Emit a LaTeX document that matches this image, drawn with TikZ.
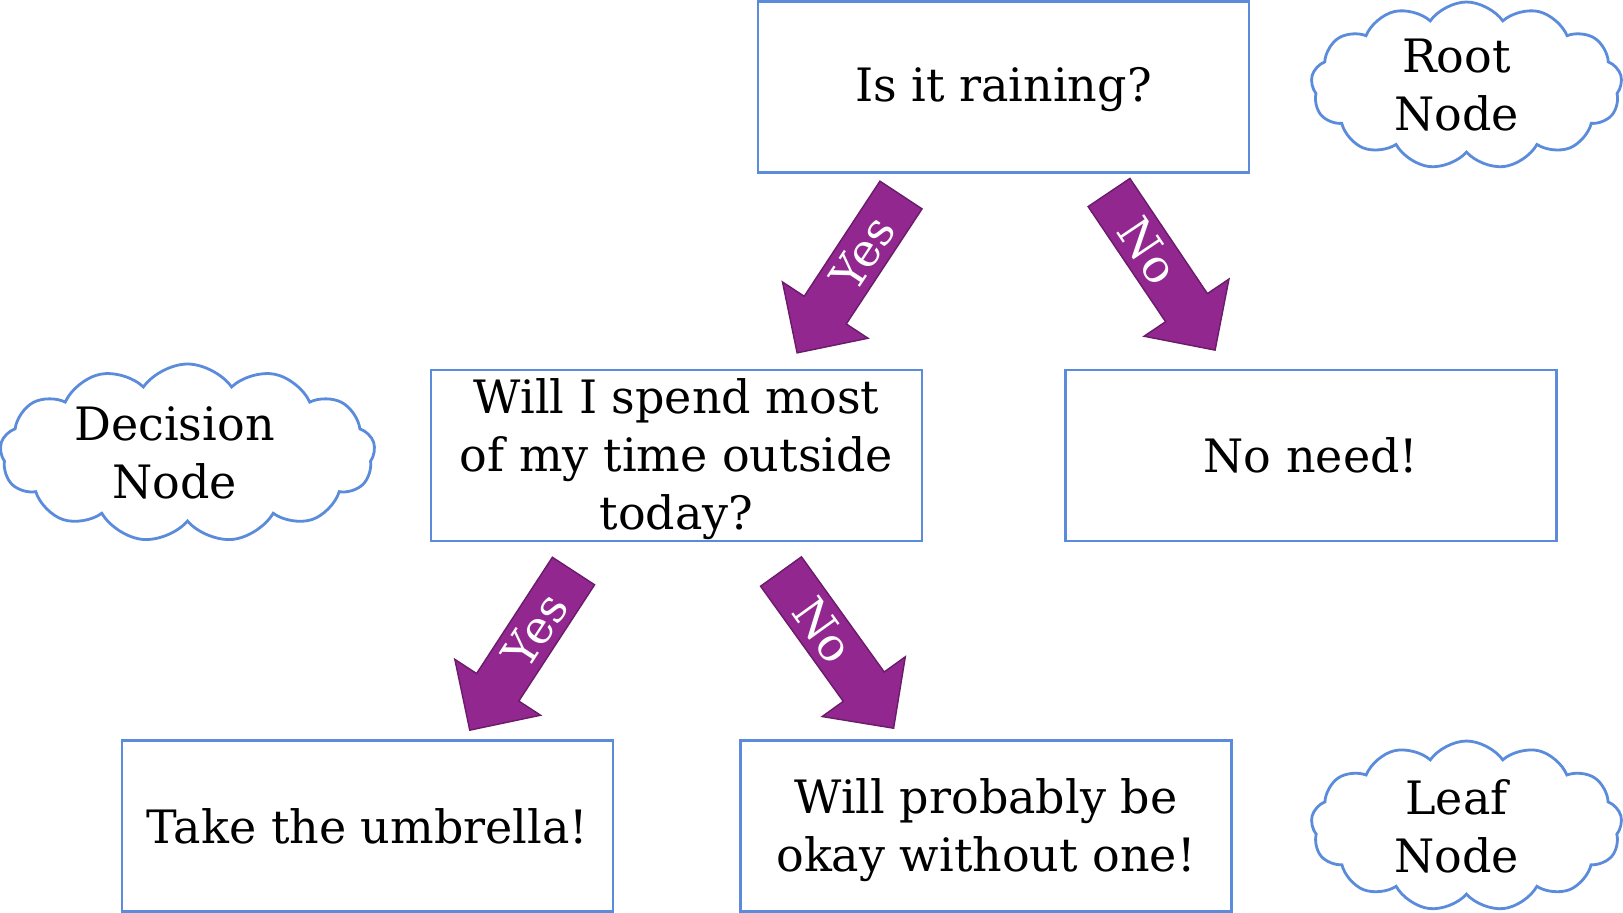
\documentclass[tikz,border=0pt]{standalone}
\usepackage{fontspec}
\setmainfont{DejaVu Serif}
\usetikzlibrary{shapes.arrows,shapes.symbols,calc}
\definecolor{boxblue}{HTML}{5B8BDB}
\definecolor{arrfill}{HTML}{92278F}
\definecolor{arrdraw}{HTML}{6A1B6A}
\tikzset{
  box/.style={draw=boxblue, line width=1.4pt, rectangle, minimum width=245.5pt, minimum height=85.5pt, align=center, font=\fontsize{23}{29}\selectfont, inner sep=0pt},
  thought/.style={draw=boxblue, line width=1.4pt, cloud, cloud puffs=13, cloud puff arc=110, cloud ignores aspect, align=center, font=\fontsize{23}{29}\selectfont, inner sep=0pt, outer sep=0pt},
  bigarrow/.style={single arrow, fill=arrfill, draw=arrdraw, line width=0.7pt, inner ysep=12.25pt, inner xsep=0pt, outer sep=0pt, single arrow head extend=13pt, single arrow head indent=0pt, anchor=tail},
  arrlabel/.style={text=white, font=\fontsize{23}{26}\selectfont, inner sep=0pt}
}
\begin{document}
\begin{tikzpicture}[x=0.5pt,y=-0.5pt]
\useasboundingbox (0,0) rectangle (1623,912);
% boxes
\node[box] (root) at (1003.5,87) {\rule{0pt}{20pt}Is it raining?};
\node[box] (dec) at (676.5,455.5) {\rule{0pt}{21.5pt}Will I spend most\\of my time outside\\today?};
\node[box] (noneed) at (1311,455.5) {No need!};
\node[box] (umb) at (367.5,826) {Take the umbrella!};
\node[box] (okay) at (986,826) {\rule{0pt}{22pt}Will probably be\\okay without one!};
% clouds
\node[thought, minimum width=155.5pt, minimum height=83.5pt] (rootc) at (1466.5,85.5) {Root\hspace*{10pt}\\Node\hspace*{10pt}};
\node[thought, minimum width=187.5pt, minimum height=89pt] (decc) at (187.5,453) {Decision\hspace*{13pt}\\Node\hspace*{13pt}};
\node[thought, minimum width=155.5pt, minimum height=85pt] (leafc) at (1466.5,826) {Leaf\hspace*{10pt}\\Node\hspace*{10pt}};
% arrow end points
\coordinate (t1) at (901,195);   \coordinate (p1) at (797,353);
\coordinate (t2) at (1109,192.5); \coordinate (p2) at (1215,350);
\coordinate (t3) at (573.5,571); \coordinate (p3) at (470,730);
\coordinate (t4) at (781,571.5); \coordinate (p4) at (895,730);
% block arrows
\node[bigarrow, rotate=236.65, minimum height=94.5pt] (a1) at (t1) {};
\node[bigarrow, rotate=-56.06, minimum height=95pt] (a2) at (t2) {};
\node[bigarrow, rotate=236.9, minimum height=95pt] (a3) at (t3) {};
\node[bigarrow, rotate=-54.3, minimum height=96.5pt] (a4) at (t4) {};
% labels
\node[arrlabel, rotate=56.65] (l1) at ($(t1)!0.37!(p1)$) {Yes};
\node[arrlabel, rotate=-56.06] (l2) at ($(t2)!0.37!(p2)$) {No};
\node[arrlabel, rotate=56.9] (l3) at ($(t3)!0.37!(p3)$) {Yes};
\node[arrlabel, rotate=-54.3] (l4) at ($(t4)!0.37!(p4)$) {No};
\end{tikzpicture}
\end{document}
